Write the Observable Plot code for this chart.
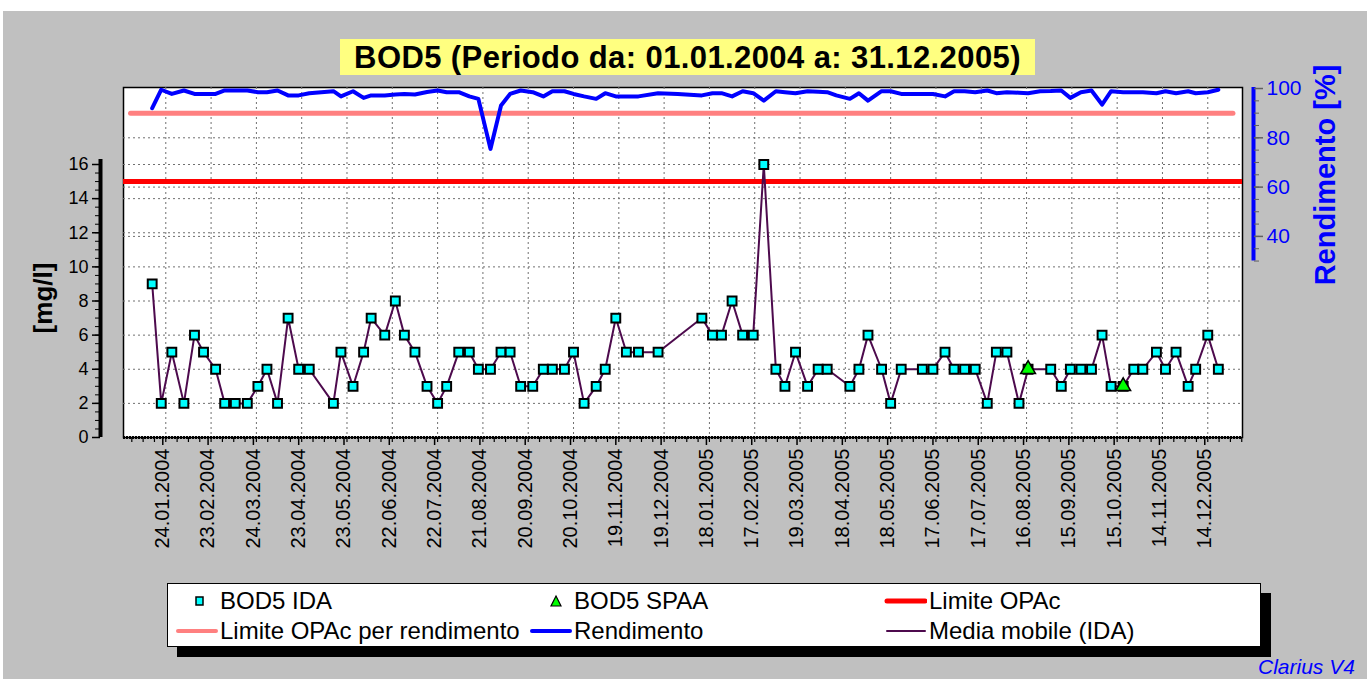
<!DOCTYPE html>
<html>
<head>
<meta charset="utf-8">
<script src="https://cdn.jsdelivr.net/npm/d3@7"></script>
<script src="https://cdn.jsdelivr.net/npm/@observablehq/plot@0.6"></script>
<style>
  body { margin: 0; background: #fff; font-family: "Liberation Sans", Arial, sans-serif; }
  #wrap { position: relative; width: 1367px; height: 679px; overflow: hidden; background: #fff; }
  #panel { position: absolute; left: 3px; top: 11px; right: 0; bottom: 0; background: #c0c0c0; }
  #chart { position: absolute; left: 0; top: 0; }
  #title { position: absolute; left: 340px; top: 39px; width: 695px; height: 36px; background: #ffff80;
           font: bold 31px "Liberation Sans", Arial, sans-serif; letter-spacing: 0.4px; text-align: center; line-height: 38px; color: #000; }
  .ylab { position: absolute; font-weight: bold; white-space: nowrap; transform-origin: center center; }
  #ylabL { left: 43px; top: 298px; font-size: 26px; color: #000; transform: translate(-50%, -50%) rotate(-90deg); }
  #ylabR { left: 1325px; top: 175px; font-size: 29px; color: #0000ff; transform: translate(-50%, -50%) rotate(-90deg); }
  #legshadow { position: absolute; left: 177px; top: 593px; width: 1094px; height: 64px; background: #000; }
  #legend { position: absolute; left: 167px; top: 583px; width: 1094px; height: 64px; background: #fff; border: 1px solid #000; box-sizing: border-box; }
  .li { position: absolute; font-size: 24px; color: #000; white-space: nowrap; line-height: 24px; }
  .sw { position: absolute; }
  #clarius { position: absolute; left: 1258px; top: 656px; font-size: 21px; line-height: 21px; font-style: italic; color: #0000ff; white-space: nowrap; }
</style>
</head>
<body>
<div id="wrap">
  <div id="panel"></div>
  <div id="chart"></div>
  <div id="title">BOD5 (Periodo da: 01.01.2004 a: 31.12.2005)</div>
  <div class="ylab" id="ylabL">[mg/l]</div>
  <div class="ylab" id="ylabR">Rendimento [%]</div>
  <div id="legshadow"></div>
  <div id="legend"></div>
  <div id="clarius">Clarius V4</div>
</div>
<script>
// ---------------- DATA ----------------
const idaDates = [
  "2004-01-15","2004-01-21","2004-01-28","2004-02-05","2004-02-12","2004-02-18","2004-02-26","2004-03-03",
  "2004-03-10","2004-03-18","2004-03-25","2004-03-31","2004-04-07","2004-04-14","2004-04-21","2004-04-28",
  "2004-05-14","2004-05-19","2004-05-27","2004-06-03","2004-06-08","2004-06-17","2004-06-24","2004-06-30",
  "2004-07-07","2004-07-15","2004-07-22","2004-07-28","2004-08-05","2004-08-12","2004-08-18","2004-08-26",
  "2004-09-02","2004-09-08","2004-09-15","2004-09-23","2004-09-30","2004-10-06","2004-10-14","2004-10-20",
  "2004-10-27","2004-11-04","2004-11-10","2004-11-17","2004-11-24","2004-12-02","2004-12-15",
  "2005-01-13","2005-01-20","2005-01-26","2005-02-02","2005-02-09","2005-02-16","2005-02-23","2005-03-03",
  "2005-03-09","2005-03-16","2005-03-24","2005-03-31","2005-04-06","2005-04-21","2005-04-27","2005-05-03",
  "2005-05-12","2005-05-18","2005-05-25","2005-06-08","2005-06-15","2005-06-23","2005-06-29","2005-07-06",
  "2005-07-13","2005-07-21","2005-07-27","2005-08-03","2005-08-11","2005-08-17","2005-09-01","2005-09-08",
  "2005-09-14","2005-09-21","2005-09-28","2005-10-05","2005-10-11","2005-10-19","2005-10-26","2005-11-01",
  "2005-11-10","2005-11-16","2005-11-23","2005-12-01","2005-12-06","2005-12-14","2005-12-21"
];
const idaValues = [
  9,2,5,2,6,5,4,2,
  2,2,3,4,2,7,4,4,
  2,5,3,5,7,6,8,6,
  5,3,2,3,5,5,4,4,
  5,5,3,3,4,4,4,5,
  2,3,4,7,5,5,5,
  7,6,6,8,6,6,16,4,
  3,5,3,4,4,3,4,6,
  4,2,4,4,4,5,4,4,
  4,2,5,5,2,4,4,3,
  4,4,4,6,3,3,4,4,
  5,4,5,3,4,6,4
];
const spaaDates = ["2005-08-17","2005-10-19"];
const spaaValues = [4, 3];

const rendDates = [
  "2004-01-15","2004-01-21","2004-01-28","2004-02-05","2004-02-12","2004-02-18","2004-02-26","2004-03-03",
  "2004-03-10","2004-03-18","2004-03-25","2004-03-31","2004-04-07","2004-04-14","2004-04-21","2004-04-28",
  "2004-05-14","2004-05-19","2004-05-27","2004-06-03","2004-06-08","2004-06-17","2004-06-24","2004-06-30",
  "2004-07-07","2004-07-15","2004-07-22","2004-07-28","2004-08-05","2004-08-12","2004-08-18","2004-08-26",
  "2004-09-02","2004-09-08","2004-09-15","2004-09-23","2004-09-30","2004-10-06","2004-10-14","2004-10-20",
  "2004-10-27","2004-11-04","2004-11-10","2004-11-17","2004-11-24","2004-12-02","2004-12-15","2004-12-28",
  "2005-01-13","2005-01-20","2005-01-26","2005-02-02","2005-02-09","2005-02-16","2005-02-23","2005-03-03",
  "2005-03-09","2005-03-16","2005-03-24","2005-03-31","2005-04-06","2005-04-12","2005-04-21","2005-04-27",
  "2005-05-03","2005-05-12","2005-05-18","2005-05-25","2005-06-08","2005-06-15","2005-06-23","2005-06-29",
  "2005-07-06","2005-07-13","2005-07-21","2005-07-27","2005-08-03","2005-08-11","2005-08-17","2005-08-25",
  "2005-09-01","2005-09-08","2005-09-14","2005-09-21","2005-09-28","2005-10-05","2005-10-11","2005-10-19",
  "2005-10-26","2005-11-01","2005-11-10","2005-11-16","2005-11-23","2005-12-01","2005-12-06","2005-12-14",
  "2005-12-21"
];
const rendValues = [
  92.0,99.5,97.8,99.2,97.8,97.8,97.8,99.2,
  99.2,99.2,98.5,98.5,99.2,97.2,97.2,98.1,
  98.9,96.8,98.9,96.2,97.2,97.2,97.6,97.8,
  97.6,98.6,99.2,98.5,98.5,96.8,95.8,75.5,
  93.1,97.8,99.2,98.5,96.8,98.9,98.9,97.8,
  96.8,95.8,98.1,96.8,96.8,96.8,98.1,97.8,
  97.2,98.1,98.1,96.8,98.9,98.1,95.1,98.9,
  98.5,98.1,98.9,98.7,98.5,97.2,95.8,98.1,
  95.1,98.9,98.9,97.8,97.8,97.8,96.8,98.9,
  98.9,98.5,99.2,98.1,98.5,98.3,98.1,98.9,
  99.0,99.2,96.2,98.5,99.2,93.5,98.9,98.5,
  98.5,98.5,98.1,98.9,98.1,98.9,98.1,98.5,
  99.5
];

const xTickLabels = [
  "24.01.2004","23.02.2004","24.03.2004","23.04.2004","23.05.2004","22.06.2004","22.07.2004","21.08.2004",
  "20.09.2004","20.10.2004","19.11.2004","19.12.2004","18.01.2005","17.02.2005","19.03.2005","18.04.2005",
  "18.05.2005","17.06.2005","17.07.2005","16.08.2005","15.09.2005","15.10.2005","14.11.2005","14.12.2005"
];
const leftTicks = [0, 2, 4, 6, 8, 10, 12, 14, 16];
const rightTicks = [40, 60, 80, 100];
const limiteOPAc = 15;          // mg/l
const limiteRendimento = 90;    // %
const periodStart = "2004-01-01";
const periodEnd = "2005-12-31";

// ---------------- SCALES ----------------
const parseISO = d3.utcParse("%Y-%m-%d");
const parseTick = d3.utcParse("%d.%m.%Y");
const fmtTick = d3.utcFormat("%d.%m.%Y");
const xDomain = [parseISO("2003-12-27"), parseISO("2006-01-06")];
const yTop = 20.513;                       // left axis (mg/l) top of plot area
const rMin = -41.58, rMax = 100.41;        // right axis (%) over same pixel range
const toMg = r => (r - rMin) / (rMax - rMin) * yTop;
const fromMg = v => rMin + v / yTop * (rMax - rMin);

const ida = idaDates.map((d, i) => ({date: parseISO(d), v: idaValues[i]}));
const spaa = spaaDates.map((d, i) => ({date: parseISO(d), v: spaaValues[i]}));
const rend = rendDates.map((d, i) => ({date: parseISO(d), r: rendValues[i]}));
const majorTicks = xTickLabels.map(parseTick);
const minorTicks = [];
for (let t = +majorTicks[0] - 4 * 7.5 * 864e5; t <= +xDomain[1]; t += 7.5 * 864e5) {
  if (t >= +xDomain[0]) minorTicks.push(new Date(t));
}
const leftMinor = d3.range(0, 16.01, 0.5);
const rightMinor = d3.range(30, 100.01, 5).map(toMg);

const BLUE = "#0000ff";
const gridStyle = {stroke: "#707070", strokeOpacity: 1, strokeDasharray: "2,3", strokeWidth: 1};

const chart = Plot.plot({
  width: 1367,
  height: 679,
  marginLeft: 123,
  marginRight: 125,
  marginTop: 87,
  marginBottom: 242,
  style: {background: "transparent", fontFamily: "'Liberation Sans', Arial, sans-serif", overflow: "visible"},
  x: {type: "utc", domain: xDomain},
  y: {domain: [0, yTop]},
  marks: [
    Plot.frame({fill: "#ffffff", stroke: "#000", strokeWidth: 1.5}),
    Plot.gridX(majorTicks, gridStyle),
    Plot.gridY(leftTicks.slice(1), gridStyle),
    Plot.gridY([40, 60, 80].map(toMg), gridStyle),
    // limits
    Plot.ruleY([limiteOPAc], {stroke: "#ff0000", strokeWidth: 5}),
    Plot.ruleY([toMg(limiteRendimento)], {x1: () => parseISO(periodStart), x2: () => parseISO(periodEnd),
      stroke: "#ff8080", strokeWidth: 5, strokeLinecap: "round"}),
    // rendimento
    Plot.line(rend, {x: "date", y: d => toMg(d.r), stroke: BLUE, strokeWidth: 4, strokeLinejoin: "round"}),
    // moving average (IDA)
    Plot.line(ida, {x: "date", y: "v", stroke: "#4d0a4d", strokeWidth: 2}),
    Plot.dot(ida, {x: "date", y: "v", symbol: "square", r: 5, fill: "#00ffff", stroke: "#000", strokeWidth: 2}),
    Plot.dot(spaa, {x: "date", y: "v", symbol: "triangle", r: 5.5, fill: "#00ff00", stroke: "#000", strokeWidth: 1.5}),
    // x axis
    Plot.axisX(minorTicks, {tickSize: 5, tickFormat: () => "", label: null, strokeWidth: 1.2}),
    Plot.axisX(majorTicks, {tickSize: 8, tickRotate: -90, tickFormat: fmtTick, label: null,
      fontSize: 20, dx: -3, strokeWidth: 1.5, fill: "#000"}),
    Plot.ruleY([0], {stroke: "#000", strokeWidth: 3, strokeDasharray: "2,1"}),
    // left axis
    Plot.ruleX([xDomain[0]], {y1: 0, y2: 16.3, dx: -23, stroke: "#000", strokeWidth: 4}),
    Plot.axisY(leftMinor, {anchor: "left", dx: -23, tickSize: 5, tickFormat: () => "", label: null}),
    Plot.axisY(leftTicks, {anchor: "left", dx: -23, tickSize: 8, tickPadding: 4, label: null,
      fontSize: 18, strokeWidth: 1.5, fill: "#000"}),
    // right axis (rendimento)
    Plot.ruleX([xDomain[1]], {y1: toMg(30), y2: toMg(100.41), dx: 11, stroke: BLUE, strokeWidth: 4}),
    Plot.axisY(rightMinor, {anchor: "right", dx: 11, tickSize: 5, tickFormat: () => "", label: null, stroke: "#606060"}),
    Plot.axisY(rightTicks.map(toMg), {anchor: "right", dx: 11, tickSize: 9, tickPadding: 4, label: null,
      tickFormat: v => String(Math.round(fromMg(v))), fontSize: 21, fill: BLUE, stroke: "#606060", strokeWidth: 1.5})
  ]
});
document.getElementById("chart").appendChild(chart);

// ---------------- LEGEND ----------------
const legendItems = [
  {label: "BOD5 IDA", kind: "square", color: "#00ffff", col: 0, row: 0},
  {label: "BOD5 SPAA", kind: "triangle", color: "#00ff00", col: 1, row: 0},
  {label: "Limite OPAc", kind: "line", color: "#ff0000", w: 5, col: 2, row: 0},
  {label: "Limite OPAc per rendimento", kind: "line", color: "#ff8080", w: 4, col: 0, row: 1},
  {label: "Rendimento", kind: "line", color: BLUE, w: 4, col: 1, row: 1},
  {label: "Media mobile (IDA)", kind: "line", color: "#4d0a4d", w: 2, col: 2, row: 1}
];
const colText = [52, 406, 761];
const rowY = [17, 47];
const leg = document.getElementById("legend");
for (const it of legendItems) {
  const t = document.createElement("div");
  t.className = "li";
  t.textContent = it.label;
  t.style.left = colText[it.col] + "px";
  t.style.top = (rowY[it.row] - 12) + "px";
  leg.appendChild(t);
  const ns = "http://www.w3.org/2000/svg";
  const svg = document.createElementNS(ns, "svg");
  svg.setAttribute("class", "sw");
  svg.setAttribute("width", 44); svg.setAttribute("height", 14);
  svg.style.left = (colText[it.col] - 46) + "px";
  svg.style.top = (rowY[it.row] - 7) + "px";
  let el;
  if (it.kind === "line") {
    el = document.createElementNS(ns, "line");
    el.setAttribute("x1", 4); el.setAttribute("x2", 42); el.setAttribute("y1", 7); el.setAttribute("y2", 7);
    el.setAttribute("stroke", it.color); el.setAttribute("stroke-width", it.w); el.setAttribute("stroke-linecap", "round");
  } else if (it.kind === "square") {
    el = document.createElementNS(ns, "rect");
    el.setAttribute("x", 22); el.setAttribute("y", 3); el.setAttribute("width", 7); el.setAttribute("height", 8);
    el.setAttribute("fill", it.color); el.setAttribute("stroke", "#000"); el.setAttribute("stroke-width", 1.5);
  } else {
    el = document.createElementNS(ns, "path");
    el.setAttribute("d", "M28,2 L33,12 L23,12 Z");
    el.setAttribute("fill", it.color); el.setAttribute("stroke", "#000"); el.setAttribute("stroke-width", 1.2);
  }
  svg.appendChild(el);
  leg.appendChild(svg);
}
</script>
</body>
</html>
